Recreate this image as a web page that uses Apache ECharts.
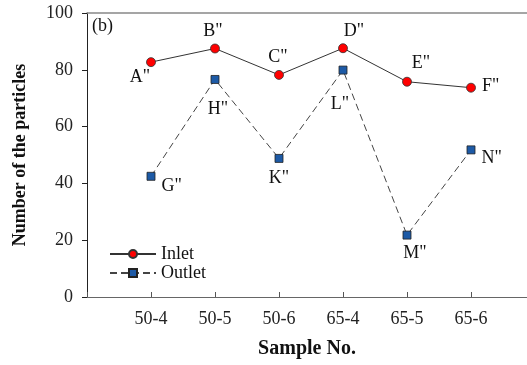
<!DOCTYPE html>
<html><head><meta charset="utf-8">
<script src="https://cdn.jsdelivr.net/npm/echarts@6/dist/echarts.min.js"></script>
<style>html,body{margin:0;padding:0;background:#fff}#c{width:527px;height:365px}</style>
</head><body><div id="c"></div>
<script>
var categories = ['50-4', '50-5', '50-6', '65-4', '65-5', '65-6'];
var inlet = [82.7, 87.5, 78.2, 87.6, 75.8, 73.7];
var outlet = [42.5, 76.6, 48.8, 79.9, 21.8, 51.8];
var inletLabels = ['A"', 'B"', 'C"', 'D"', 'E"', 'F"'];
var outletLabels = ['G"', 'H"', 'K"', 'L"', 'M"', 'N"'];
var yTicks = [0, 20, 40, 60, 80, 100];

var font = 'Liberation Serif';
var labelPlace = {
  'A"': ['bottom', [-11, -5]], 'B"': ['top', [-2, 3]], 'C"': ['top', [-1, 2]],
  'D"': ['top', [11, 3]], 'E"': ['top', [14, 1]], 'F"': ['right', [0, -1]],
  'G"': ['right', [0, 10]], 'H"': ['bottom', [3, 10]], 'K"': ['bottom', [0, 0]],
  'L"': ['bottom', [-3, 15]], 'M"': ['bottom', [8, -1]], 'N"': ['right', [0, 8]]
};
function mk(vals, labels) {
  return vals.map(function (v, i) {
    var p = labelPlace[labels[i]];
    return {
      value: [i + 1, v],
      label: { show: true, formatter: labels[i], position: p[0], offset: p[1],
        fontFamily: font, fontSize: 18, color: '#111', distance: 6 }
    };
  });
}
var chart = echarts.init(document.getElementById('c'));
chart.setOption({
  animation: false,
  backgroundColor: '#fff',
  grid: { left: 87, top: 13, right: 0, height: 284, containLabel: false },
  legend: {
    left: 104, top: 240, orient: 'vertical', itemWidth: 46, itemHeight: 10, itemGap: 1,
    textStyle: { fontFamily: font, fontSize: 18, color: '#111' },
    data: ['Inlet', 'Outlet']
  },
  graphic: [{ type: 'text', left: 92, top: 17, style: { text: '(b)', font: '18px "Liberation Serif"', fill: '#111' } }],
  xAxis: [{
    type: 'value', min: 0, max: 6.875, interval: 1,
    name: 'Sample No.', nameLocation: 'middle', nameGap: 42,
    nameTextStyle: { fontFamily: font, fontSize: 20, fontWeight: 'bold', color: '#111' },
    axisLine: { lineStyle: { color: '#666', width: 1 } },
    axisTick: { inside: true, length: 5, lineStyle: { color: '#555' } },
    axisLabel: { fontFamily: font, fontSize: 18, color: '#222', margin: 13, showMaxLabel: false,
      formatter: function (v) { return categories[v - 1] || ''; } },
    splitLine: { show: false }
  }, {
    type: 'value', min: 0, max: 6.875, interval: 1, position: 'top',
    axisLine: { show: true, lineStyle: { color: '#888', width: 1.5 } },
    axisTick: { show: false }, axisLabel: { show: false }, splitLine: { show: false }
  }],
  yAxis: {
    type: 'value', min: 0, max: 100, interval: 20,
    name: 'Number of the particles', nameLocation: 'middle', nameGap: 58, nameRotate: 90,
    nameTextStyle: { fontFamily: font, fontSize: 18, fontWeight: 'bold', color: '#111' },
    axisLine: { show: true, lineStyle: { color: '#222', width: 1 } },
    axisTick: { show: true, length: 5, lineStyle: { color: '#222' } },
    axisLabel: { fontFamily: font, fontSize: 18, color: '#222', margin: 14,
      formatter: function (v) { return yTicks.indexOf(v) >= 0 ? String(v) : ''; } },
    splitLine: { show: false }
  },
  series: [{
    name: 'Inlet', type: 'line', data: mk(inlet, inletLabels),
    symbol: 'circle', symbolSize: 9,
    itemStyle: { color: '#ff0000', borderColor: '#333', borderWidth: 0.8 },
    lineStyle: { color: '#333', width: 1 }
  }, {
    name: 'Outlet', type: 'line', data: mk(outlet, outletLabels),
    symbol: 'rect', symbolSize: 8,
    itemStyle: { color: '#1d5aa6', borderColor: '#222', borderWidth: 0.8 },
    lineStyle: { color: '#444', width: 1, type: [7, 4] }
  }]
});
</script></body></html>
